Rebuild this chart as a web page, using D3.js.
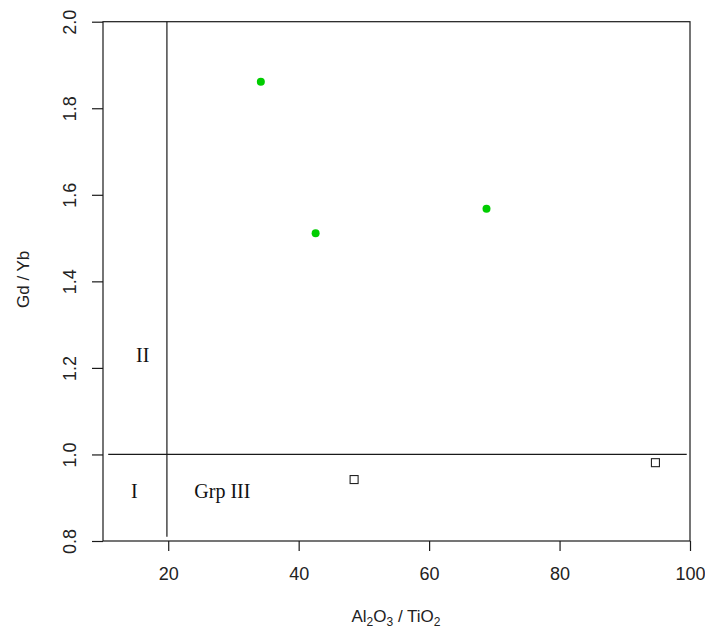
<!DOCTYPE html>
<html>
<head>
<meta charset="utf-8">
<script src="https://cdn.jsdelivr.net/npm/d3@7"></script>
<style>
  html, body { margin: 0; padding: 0; background: #fff; }
  svg { display: block; }
</style>
</head>
<body>
<svg id="chart" width="705" height="631"></svg>
<script>
// Group II samples (filled green circles)
const grp2X = [34.2, 42.6, 68.8];
const grp2Y = [1.861, 1.511, 1.568];
// Group III samples (open squares)
const grp3X = [48.5, 94.7];
const grp3Y = [0.942, 0.981];

// Axis ticks
const xTicks = [20, 40, 60, 80, 100];
const yTicks = [0.8, 1.0, 1.2, 1.4, 1.6, 1.8, 2.0];

// Field boundaries
const vBoundary = { x: 19.8, y0: 0.81, y1: 2.0 };
const hBoundary = { y: 1.0, x0: 10.8, x1: 99.5 };

// Field labels
const fieldLabels = [
  { text: "II", x: 16.1, y: 1.23 },
  { text: "I", x: 14.8, y: 0.915 },
  { text: "Grp III", x: 28.3, y: 0.915 }
];

const svg = d3.select("#chart");
const plotL = 103, plotR = 690, plotT = 21.7, plotB = 541;

const x = d3.scaleLinear().domain([10, 100]).range([plotL, plotR]);
const y = d3.scaleLinear().domain([0.8, 2.0]).range([plotB, plotT]);

const ink = "#1a1a1a";

// Plot frame
svg.append("rect")
  .attr("x", plotL).attr("y", plotT)
  .attr("width", plotR - plotL).attr("height", plotB - plotT)
  .attr("fill", "none").attr("stroke", ink).attr("stroke-width", 1.2);

// X axis
const xAxis = d3.axisBottom(x).tickValues(xTicks).tickSize(10).tickPadding(16)
  .tickFormat(d3.format("d"));
const gx = svg.append("g").attr("transform", `translate(0,${plotB})`).call(xAxis);
gx.select(".domain").remove();
gx.selectAll("line").attr("stroke", ink).attr("stroke-width", 1.2);
gx.selectAll("text").attr("font-family", "Liberation Sans, Arial, sans-serif")
  .attr("font-size", 18).attr("fill", "#222");

// Y axis with rotated labels
const yAxis = d3.axisLeft(y).tickValues(yTicks).tickSize(11)
  .tickFormat(d3.format(".1f"));
const gy = svg.append("g").attr("transform", `translate(${plotL},0)`).call(yAxis);
gy.select(".domain").remove();
gy.selectAll("line").attr("stroke", ink).attr("stroke-width", 1.2);
gy.selectAll("text")
  .attr("font-family", "Liberation Sans, Arial, sans-serif")
  .attr("font-size", 18).attr("fill", "#222")
  .attr("x", null).attr("dy", null)
  .attr("text-anchor", "middle")
  .attr("transform", "translate(-33,0) rotate(-90)")
  .attr("dy", "0.35em");

// Field boundaries
svg.append("line")
  .attr("x1", x(vBoundary.x)).attr("x2", x(vBoundary.x))
  .attr("y1", y(vBoundary.y1)).attr("y2", y(vBoundary.y0))
  .attr("stroke", ink).attr("stroke-width", 1.2);
svg.append("line")
  .attr("x1", x(hBoundary.x0)).attr("x2", x(hBoundary.x1))
  .attr("y1", y(hBoundary.y)).attr("y2", y(hBoundary.y))
  .attr("stroke", ink).attr("stroke-width", 1.2);

// Field labels
svg.selectAll("text.field").data(fieldLabels).enter().append("text")
  .attr("class", "field")
  .attr("x", d => x(d.x)).attr("y", d => y(d.y))
  .attr("text-anchor", "middle").attr("dy", "0.35em")
  .attr("font-family", "Liberation Serif, Times New Roman, serif")
  .attr("font-size", 20).attr("fill", "#111")
  .text(d => d.text);

// Group II points
svg.selectAll("circle.g2").data(grp2X.map((v, i) => [v, grp2Y[i]])).enter()
  .append("circle").attr("class", "g2")
  .attr("cx", d => x(d[0])).attr("cy", d => y(d[1])).attr("r", 4)
  .attr("fill", "#00CD00");

// Group III points
const sq = 8;
svg.selectAll("rect.g3").data(grp3X.map((v, i) => [v, grp3Y[i]])).enter()
  .append("rect").attr("class", "g3")
  .attr("x", d => x(d[0]) - sq / 2).attr("y", d => y(d[1]) - sq / 2)
  .attr("width", sq).attr("height", sq)
  .attr("fill", "none").attr("stroke", "#222").attr("stroke-width", 1.1);

// Axis titles
const xt = svg.append("text")
  .attr("x", (plotL + plotR) / 2 - 0.5).attr("y", 622)
  .attr("text-anchor", "middle")
  .attr("font-family", "Liberation Sans, Arial, sans-serif")
  .attr("font-size", 17).attr("fill", "#222");
xt.append("tspan").text("Al");
xt.append("tspan").attr("font-size", 12).attr("dy", 4).text("2");
xt.append("tspan").attr("dy", -4).text("O");
xt.append("tspan").attr("font-size", 12).attr("dy", 4).text("3");
xt.append("tspan").attr("dy", -4).text(" / ");
xt.append("tspan").text("TiO");
xt.append("tspan").attr("font-size", 12).attr("dy", 4).text("2");

svg.append("text")
  .attr("transform", `translate(29,${(plotT + plotB) / 2 - 2}) rotate(-90)`)
  .attr("text-anchor", "middle")
  .attr("font-family", "Liberation Sans, Arial, sans-serif")
  .attr("font-size", 17).attr("fill", "#222")
  .text("Gd / Yb");
</script>
</body>
</html>
